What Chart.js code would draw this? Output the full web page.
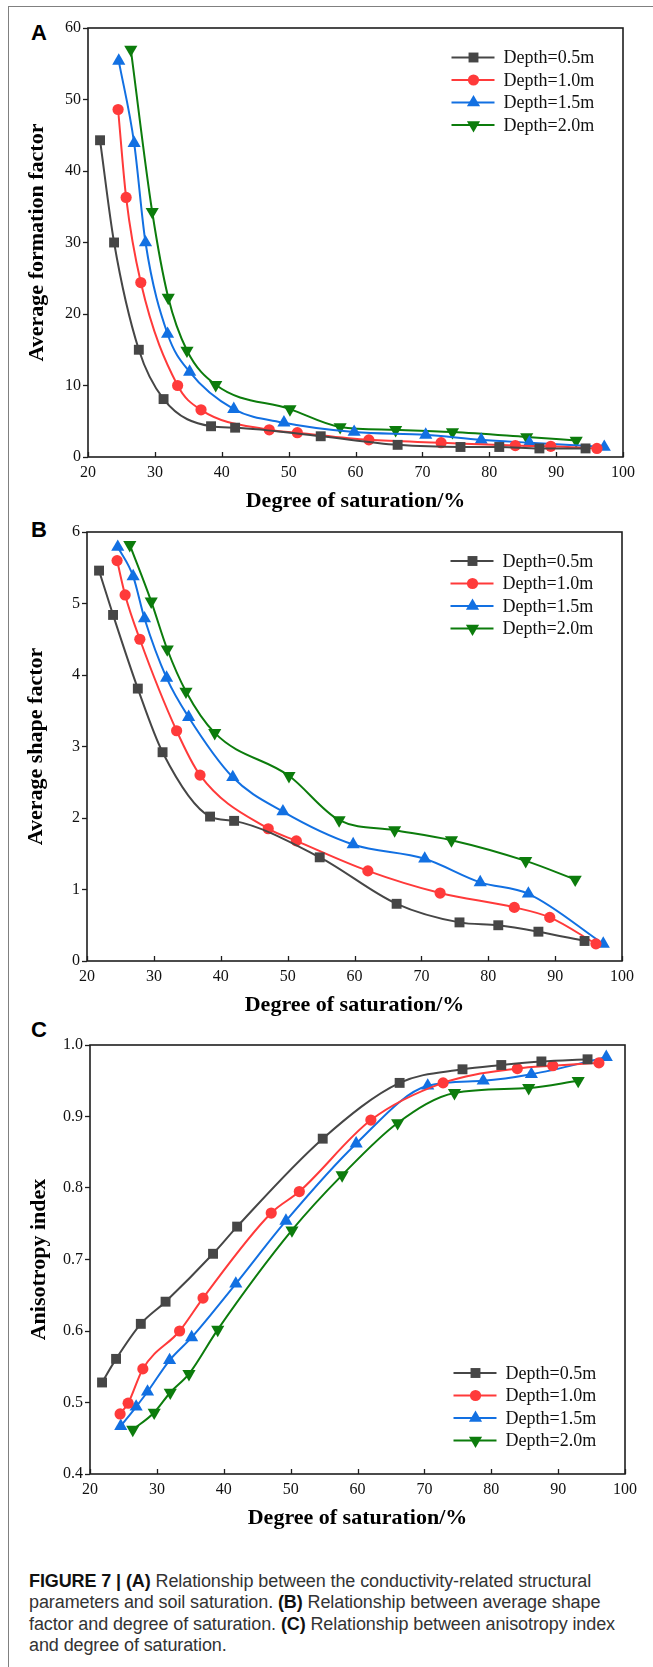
<!DOCTYPE html>
<html>
<head>
<meta charset="utf-8">
<script src="https://cdn.jsdelivr.net/npm/chart.js"></script>
<style>
  html, body { margin: 0; padding: 0; background: #fff; }
  body { position: relative; width: 653px; height: 1667px; overflow: hidden; }
  .frame { position: absolute; left: 8px; top: 6px; width: 700px; height: 1700px;
           border-left: 1px solid #808080; border-top: 1px solid #808080; }
  .panel { position: absolute; }
  .letter { position: absolute; left: 31px; font: bold 22px "Liberation Sans", Arial, sans-serif;
            line-height: 22px; color: #000; }
  .caption { position: absolute; left: 29px; top: 1571px; width: 624px; color: #333;
             font: 18px "Liberation Sans", Arial, sans-serif; line-height: 21.4px; letter-spacing: -0.1px;
             white-space: nowrap; }
  .caption b { color: #111; }
</style>
</head>
<body>
<div class="frame"></div>

<div class="letter" style="top:22px">A</div>
<div class="letter" style="top:519px">B</div>
<div class="letter" style="top:1019px">C</div>

<canvas id="chart-a" class="panel" width="653" height="520" style="left:0px;top:0px"></canvas>
<canvas id="chart-b" class="panel" width="653" height="520" style="left:-1px;top:504px"></canvas>
<canvas id="chart-c" class="panel" width="653" height="520" style="left:2px;top:1017px"></canvas>

<div class="caption">
  <b>FIGURE 7 | (A)</b> Relationship between the conductivity-related structural<br>
  parameters and soil saturation. <b>(B)</b> Relationship between average shape<br>
  factor and degree of saturation. <b>(C)</b> Relationship between anisotropy index<br>
  and degree of saturation.
</div>

<script>
// saturation (%) for each depth
var satD05 = [21.8, 23.9, 27.6, 31.3, 38.4, 42.0, 54.8, 66.3, 75.7, 81.5, 87.5, 94.4];
var satD10 = [24.5, 25.7, 27.9, 33.4, 36.9, 47.1, 51.3, 62.0, 72.8, 83.9, 89.2, 96.1];
var satD15 = [24.6, 26.9, 28.6, 31.9, 35.2, 41.8, 49.3, 59.8, 70.5, 78.8, 86.0, 97.2];
var satD20 = [26.4, 29.6, 32.0, 34.8, 39.1, 50.2, 57.7, 66.0, 74.5, 85.6, 93.0];

// (A) average formation factor
var formD05 = [44.3, 30.0, 15.0, 8.1, 4.3, 4.1, 2.9, 1.7, 1.4, 1.4, 1.2, 1.2];
var formD10 = [48.6, 36.3, 24.4, 10.0, 6.6, 3.8, 3.4, 2.4, 2.0, 1.6, 1.5, 1.2];
var formD15 = [55.4, 43.9, 30.0, 17.2, 11.9, 6.7, 4.8, 3.5, 3.1, 2.4, 2.0, 1.4];
var formD20 = [57.0, 34.3, 22.3, 14.9, 10.1, 6.7, 4.2, 3.8, 3.5, 2.8, 2.3];

// (B) average shape factor
var shapeD05 = [5.46, 4.84, 3.81, 2.92, 2.02, 1.96, 1.45, 0.80, 0.54, 0.50, 0.41, 0.28];
var shapeD10 = [5.60, 5.12, 4.50, 3.22, 2.60, 1.85, 1.68, 1.26, 0.95, 0.75, 0.61, 0.24];
var shapeD15 = [5.79, 5.38, 4.79, 3.96, 3.41, 2.57, 2.09, 1.63, 1.43, 1.10, 0.94, 0.24];
var shapeD20 = [5.82, 5.03, 4.36, 3.77, 3.19, 2.59, 1.97, 1.83, 1.69, 1.40, 1.14];

// (C) anisotropy index
var anisoD05 = [0.528, 0.561, 0.610, 0.641, 0.708, 0.746, 0.869, 0.947, 0.966, 0.972, 0.977, 0.980];
var anisoD10 = [0.484, 0.499, 0.547, 0.600, 0.646, 0.765, 0.795, 0.895, 0.947, 0.967, 0.971, 0.975];
var anisoD15 = [0.467, 0.494, 0.515, 0.559, 0.591, 0.666, 0.754, 0.862, 0.943, 0.950, 0.959, 0.983];
var anisoD20 = [0.462, 0.486, 0.514, 0.540, 0.602, 0.741, 0.818, 0.891, 0.933, 0.940, 0.950];

var depthLabels = ['Depth=0.5m', 'Depth=1.0m', 'Depth=1.5m', 'Depth=2.0m'];
var xTitle = 'Degree of saturation/%';

var serif = '"Liberation Serif", "Times New Roman", serif';
var colors = ['#464646', '#ff3a3a', '#1270e2', '#0c7c0c'];
var markers = [
    { pointStyle: 'rect', pointRadius: 7, pointRotation: 0 },
    { pointStyle: 'circle', pointRadius: 5.6, pointRotation: 0 },
    { pointStyle: 'triangle', pointRadius: 7.6, pointRotation: 0 },
    { pointStyle: 'triangle', pointRadius: 7.6, pointRotation: 180 }
];

function pairs(xs, ys) {
    return xs.map(function(x, i) { return { x: x, y: ys[i] }; });
}

function makeDatasets(series) {
    var sats = [satD05, satD10, satD15, satD20];
    return series.map(function(ys, i) {
        return {
            label: depthLabels[i],
            data: pairs(sats[i], ys),
            borderColor: colors[i],
            backgroundColor: colors[i],
            pointBackgroundColor: colors[i],
            pointBorderWidth: 0,
            pointStyle: markers[i].pointStyle,
            pointRadius: markers[i].pointRadius,
            pointHoverRadius: markers[i].pointRadius,
            pointRotation: markers[i].pointRotation,
            borderWidth: 2,
            cubicInterpolationMode: 'monotone',
            clip: false
        };
    });
}

// box around the plot, inward x ticks and a line+marker legend
var framePlugin = {
    id: 'framePlugin',
    afterDatasetsDraw: function(chart, args, opts) {
        var ctx = chart.ctx, a = chart.chartArea, xs = chart.scales.x;
        ctx.save();
        ctx.strokeStyle = '#1e1e1e';
        ctx.lineWidth = 1.3;
        xs.ticks.forEach(function(t) {
            var px = Math.round(xs.getPixelForValue(t.value)) + 0.5;
            ctx.beginPath();
            ctx.moveTo(px, a.bottom);
            ctx.lineTo(px, a.bottom - 5);
            ctx.stroke();
        });
        ctx.lineWidth = 1.6;
        ctx.strokeRect(a.left, a.top, a.right - a.left, a.bottom - a.top);

        var y0 = opts.fromBottom ? a.bottom - opts.fromBottom : a.top + opts.fromTop;
        var tx = a.right - 119.5;
        var mx = tx - 30;
        chart.data.datasets.forEach(function(ds, i) {
            var y = y0 + i * 22.5;
            ctx.strokeStyle = ds.borderColor;
            ctx.lineWidth = 2.2;
            ctx.beginPath();
            ctx.moveTo(mx - 22, y);
            ctx.lineTo(mx + 21, y);
            ctx.stroke();
            ctx.fillStyle = ds.pointBackgroundColor;
            Chart.helpers.drawPoint(ctx, {
                pointStyle: ds.pointStyle, radius: ds.pointRadius,
                rotation: ds.pointRotation, borderWidth: 0
            }, mx, y);
            ctx.fillStyle = '#111';
            ctx.font = '18px ' + serif;
            ctx.textAlign = 'left';
            ctx.textBaseline = 'middle';
            ctx.fillText(ds.label, tx, y + 1);
        });
        ctx.restore();
    }
};

function makeChart(id, series, yTitle, yMin, yMax, yStep, yDigits, legendPos) {
    var ctx = document.getElementById(id).getContext('2d');
    return new Chart(ctx, {
        type: 'line',
        data: { datasets: makeDatasets(series) },
        plugins: [framePlugin],
        options: {
            responsive: false,
            animation: false,
            devicePixelRatio: 1,
            layout: { padding: { left: 24, right: 30, top: 28, bottom: 5 } },
            plugins: {
                legend: { display: false },
                tooltip: { enabled: false },
                framePlugin: legendPos
            },
            scales: {
                x: {
                    type: 'linear',
                    min: 20, max: 100,
                    grid: { display: false, drawTicks: false },
                    border: { display: false },
                    ticks: { stepSize: 10, autoSkip: false, maxRotation: 0, padding: 6,
                             color: '#111', font: { family: serif, size: 16 } },
                    title: { display: true, text: xTitle, color: '#000', padding: 0,
                             font: { family: serif, size: 22, weight: 'bold' } },
                    afterFit: function(scale) { scale.height = 58; }
                },
                y: {
                    min: yMin, max: yMax,
                    grid: { drawOnChartArea: false, drawTicks: true, tickLength: 5,
                            tickColor: '#1e1e1e', tickWidth: 1.3 },
                    border: { display: false },
                    ticks: {
                        stepSize: yStep, autoSkip: false, padding: 2,
                        color: '#111', font: { family: serif, size: 16 },
                        callback: function(v) { return v.toFixed(yDigits); }
                    },
                    title: { display: true, text: yTitle, color: '#000', padding: 0,
                             font: { family: serif, size: 22, weight: 'bold' } },
                    afterFit: function(scale) { scale.width = 64; }
                }
            }
        }
    });
}

document.addEventListener('DOMContentLoaded', function() {
    makeChart('chart-a', [formD05, formD10, formD15, formD20],
        'Average formation factor', 0, 60, 10, 0, { fromTop: 29.5 });
    makeChart('chart-b', [shapeD05, shapeD10, shapeD15, shapeD20],
        'Average shape factor', 0, 6, 1, 0, { fromTop: 29 });
    makeChart('chart-c', [anisoD05, anisoD10, anisoD15, anisoD20],
        'Anisotropy index', 0.4, 1.0, 0.1, 1, { fromBottom: 101 });
});
</script>
</body>
</html>
